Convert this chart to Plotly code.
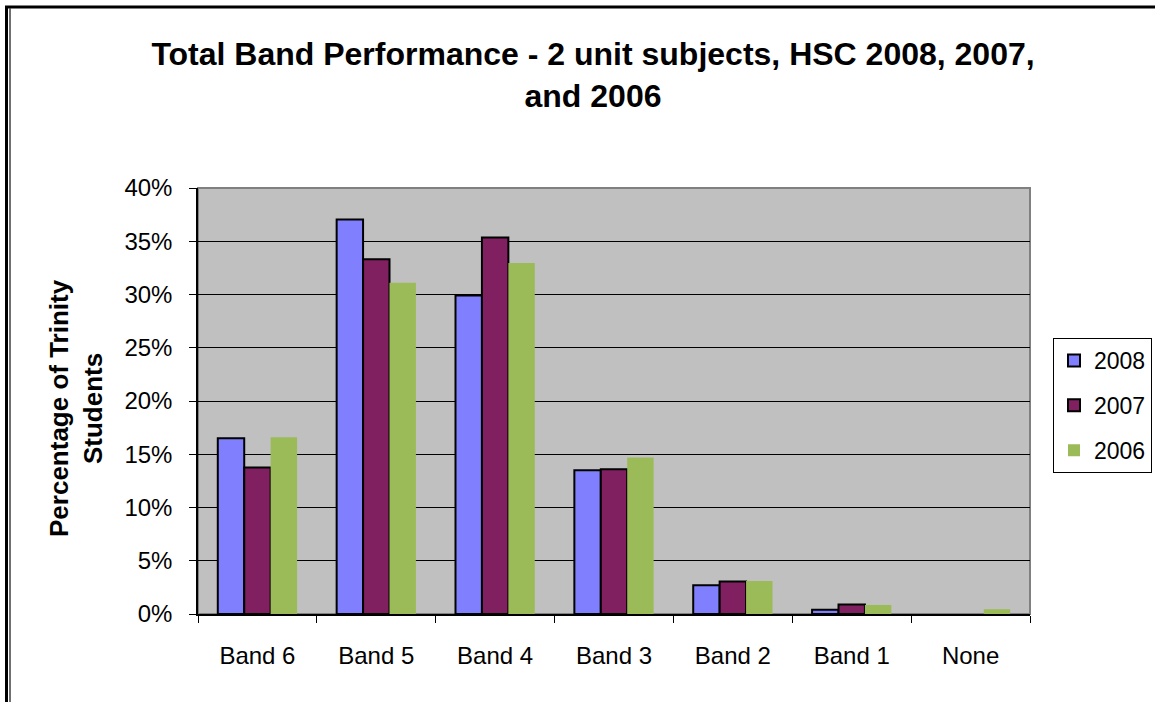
import plotly.graph_objects as go

categories = ["Band 6", "Band 5", "Band 4", "Band 3", "Band 2", "Band 1", "None"]
series_names = ["2008", "2007", "2006"]
values_2008 = [16.5, 37.05, 29.9, 13.5, 2.7, 0.4, 0.0]
values_2007 = [13.75, 33.3, 35.35, 13.6, 3.05, 0.9, 0.0]
values_2006 = [16.6, 31.1, 32.95, 14.7, 3.1, 0.85, 0.45]
colors = ["#8080FF", "#802060", "#9BBB59"]
outlines = [2, 2, 0]
y_ticks = [0, 5, 10, 15, 20, 25, 30, 35, 40]
y_tick_text = [f"{v}%" for v in y_ticks]

W, H = 1155, 702
L, R, T, B = 198, 1030, 188, 614
FONT = "Liberation Sans, Arial, sans-serif"


def px_x(px):
    return (px - L) / (R - L)


def px_y(py):
    return (B - py) / (B - T)


fig = go.Figure()
for i, (name, vals) in enumerate(zip(series_names, [values_2008, values_2007, values_2006])):
    # zero-height bars are not drawn in the original (no outline stub)
    shown = [v if v > 0 else None for v in vals]
    fig.add_trace(go.Bar(
        x=categories, y=shown, name=name, legendgroup=name,
        marker=dict(color=colors[i], line=dict(color="black", width=outlines[i])),
    ))

shapes = [
    dict(type="rect", xref="paper", yref="paper", x0=0, x1=1, y0=0, y1=1,
         line=dict(color="#808080", width=2), layer="below"),
    dict(type="line", xref="paper", yref="paper", x0=px_x(5), x1=px_x(1156),
         y0=px_y(7), y1=px_y(7), line=dict(color="black", width=3)),
    dict(type="line", xref="paper", yref="paper", x0=px_x(6.5), x1=px_x(6.5),
         y0=px_y(6), y1=px_y(703), line=dict(color="black", width=3)),
    dict(type="line", xref="paper", yref="paper", x0=px_x(10), x1=px_x(10),
         y0=px_y(8), y1=px_y(703), line=dict(color="#404040", width=1.5)),
]

fig.update_layout(
    width=W, height=H,
    margin=dict(l=L, r=W - R, t=T, b=H - B, autoexpand=False),
    paper_bgcolor="white",
    plot_bgcolor="#C0C0C0",
    barmode="group",
    bargap=0.333,
    bargroupgap=0,
    font=dict(family=FONT, color="black", size=24),
    title=dict(
        text="<b>Total Band Performance - 2 unit subjects, HSC 2008, 2007,<br>and 2006</b>",
        x=593 / W, xref="container", xanchor="center",
        y=1 - 65 / H, yref="container", yanchor="middle",
        font=dict(family=FONT, size=32, color="black"),
    ),
    legend=dict(
        x=px_x(1053), y=px_y(338), xanchor="left", yanchor="top",
        bgcolor="white", bordercolor="black", borderwidth=1,
        font=dict(family=FONT, size=23, color="black"),
        tracegroupgap=12, traceorder="grouped",
    ),
    xaxis=dict(
        showline=True, linecolor="black", linewidth=1.5,
        ticks="outside", tickson="boundaries", ticklen=7, tickcolor="black", tickwidth=1,
        tickfont=dict(family=FONT, size=24, color="black"),
        ticklabelstandoff=19,
        showgrid=False,
    ),
    yaxis=dict(
        range=[0, 40], tickvals=y_ticks, ticktext=y_tick_text,
        showline=True, linecolor="black", linewidth=1.5,
        ticks="outside", ticklen=7, tickcolor="black", tickwidth=1,
        tickfont=dict(family=FONT, size=24, color="black"),
        ticklabelstandoff=12,
        showgrid=True, gridcolor="black", gridwidth=1,
        zeroline=False,
    ),
    shapes=shapes,
    annotations=[dict(
        text="<b>Percentage of Trinity<br>Students</b>",
        xref="paper", yref="paper", x=px_x(76), y=px_y(408),
        xanchor="center", yanchor="middle", textangle=-90, showarrow=False,
        font=dict(family=FONT, size=26, color="black"),
    )],
)

fig.write_html("out.html", config={"displayModeBar": False},
               post_script="document.body.style.margin='0';")
